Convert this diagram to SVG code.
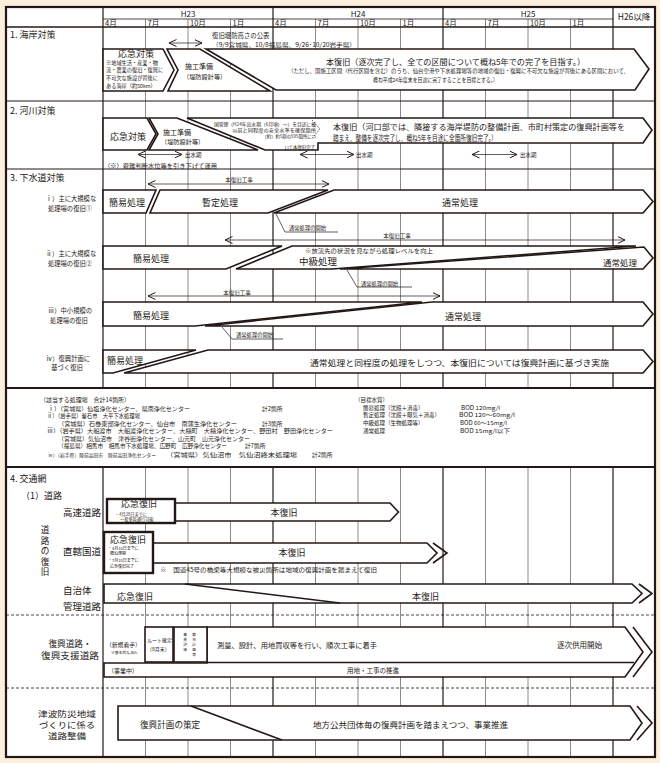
<svg xmlns="http://www.w3.org/2000/svg" width="660" height="763" viewBox="0 0 660 763">
<style>
.j{font-family:"Noto Sans CJK JP","Noto Sans",sans-serif;fill:#231815}
.l{font-family:"Liberation Sans","Noto Sans CJK JP",sans-serif;fill:#231815}
.s{fill:#fff;stroke:#231815;stroke-width:1.6;stroke-linejoin:miter}
.b{fill:#fff;stroke:#231815;stroke-width:2.4}
.ln{fill:none;stroke:#231815;stroke-width:1.6}
.th{fill:none;stroke:#231815;stroke-width:0.7}
.q{stroke:#6d6d6d;stroke-width:0.8}
.y{stroke:#231815;stroke-width:1.2}
.arr{fill:none;stroke:#231815;stroke-width:0.7;marker-start:url(#ah);marker-end:url(#ah)}
.d{stroke:#231815;stroke-width:0.8;stroke-dasharray:3 2}
</style>
<defs>
<marker id="ah" viewBox="0 0 8 8" refX="7.5" refY="4" markerWidth="8" markerHeight="8" markerUnits="userSpaceOnUse" orient="auto-start-reverse"><path d="M0,0.5 L7.5,4 L0,7.5" fill="none" stroke="#231815" stroke-width="1"/></marker>
</defs>
<rect x="0" y="0" width="660" height="763" fill="#fcefdc"/>
<rect x="6" y="7" width="649" height="750" fill="#fff"/>

<g id="grid">
<g class="q">
<line x1="145.5" y1="19" x2="145.5" y2="388"/><line x1="188" y1="19" x2="188" y2="388"/><line x1="230.5" y1="19" x2="230.5" y2="388"/>
<line x1="315.5" y1="19" x2="315.5" y2="388"/><line x1="358" y1="19" x2="358" y2="388"/><line x1="400.5" y1="19" x2="400.5" y2="388"/>
<line x1="485.5" y1="19" x2="485.5" y2="388"/><line x1="528" y1="19" x2="528" y2="388"/><line x1="570.5" y1="19" x2="570.5" y2="388"/>
<line x1="145.5" y1="467" x2="145.5" y2="757"/><line x1="188" y1="467" x2="188" y2="757"/><line x1="230.5" y1="467" x2="230.5" y2="757"/>
<line x1="315.5" y1="467" x2="315.5" y2="757"/><line x1="358" y1="467" x2="358" y2="757"/><line x1="400.5" y1="467" x2="400.5" y2="757"/>
<line x1="485.5" y1="467" x2="485.5" y2="757"/><line x1="528" y1="467" x2="528" y2="757"/><line x1="570.5" y1="467" x2="570.5" y2="757"/>
</g>
<g class="y">
<line x1="273" y1="7" x2="273" y2="388"/><line x1="443" y1="7" x2="443" y2="388"/><line x1="613" y1="7" x2="613" y2="388"/>
<line x1="273" y1="467" x2="273" y2="757"/><line x1="443" y1="467" x2="443" y2="757"/><line x1="613" y1="467" x2="613" y2="757"/>
<line x1="103" y1="7" x2="103" y2="388"/><line x1="103" y1="467" x2="103" y2="757"/>
<line x1="103" y1="19" x2="613" y2="19" stroke-width="0.8"/>
<line x1="6" y1="27" x2="655" y2="27" stroke-width="1.6"/>
<line x1="6" y1="101" x2="655" y2="101" stroke-width="1"/>
<line x1="6" y1="169" x2="655" y2="169" stroke-width="1"/>
<line x1="6" y1="388" x2="655" y2="388" stroke-width="2"/>
<line x1="6" y1="467" x2="655" y2="467" stroke-width="2"/>
</g>
<line class="d" x1="6" y1="615" x2="655" y2="615"/>
<line class="d" x1="6" y1="688" x2="655" y2="688"/>
</g>

<g id="header" class="j">
<text x="188" y="16.5" font-size="8" text-anchor="middle">H23</text>
<text x="358" y="16.5" font-size="8" text-anchor="middle">H24</text>
<text x="528" y="16.5" font-size="8" text-anchor="middle">H25</text>
<text x="634" y="19.5" font-size="8.5" text-anchor="middle">H26以降</text>
<g font-size="7.5">
<text x="105" y="26">4月</text><text x="147.5" y="26">7月</text><text x="190" y="26">10月</text><text x="232.5" y="26">1月</text>
<text x="275" y="26">4月</text><text x="317.5" y="26">7月</text><text x="360" y="26">10月</text><text x="402.5" y="26">1月</text>
<text x="445" y="26">4月</text><text x="487.5" y="26">7月</text><text x="530" y="26">10月</text><text x="572.5" y="26">1月</text>
</g>
</g>

<g id="labels" class="j">
<text x="10" y="38" font-size="9">1. 海岸対策</text>
<text x="10" y="114" font-size="9">2. 河川対策</text>
<text x="10" y="181" font-size="9">3. 下水道対策</text>
<g font-size="6.3" text-anchor="middle">
<text x="71" y="200.5">ⅰ）主に大規模な</text><text x="70" y="210.5">処理場の復旧①</text>
<text x="71" y="256">ⅱ）主に大規模な</text><text x="70" y="266">処理場の復旧②</text>
<text x="70" y="313">ⅲ）中小規模の</text><text x="69" y="323">処理場の復旧</text>
<text x="68" y="361">ⅳ）復興計画に</text><text x="67" y="370">基づく復旧</text>
</g>
<text x="10" y="482" font-size="9">4. 交通網</text>
<text x="21" y="499" font-size="9">（1）道路</text>
<g font-size="8.6" text-anchor="middle">
<text x="45" y="533">道</text><text x="45" y="543.5">路</text><text x="45" y="554">の</text><text x="45" y="564.5">復</text><text x="45" y="575">旧</text>
</g>
<g font-size="9.5">
<text x="63" y="516">高速道路</text>
<text x="63" y="555">直轄国道</text>
<text x="63" y="593.5">自治体</text>
<text x="63" y="610">管理道路</text>
</g>
<g font-size="8.6" text-anchor="middle">
<text x="70" y="647">復興道路・</text>
<text x="70" y="658.5" textLength="58" lengthAdjust="spacingAndGlyphs">復興支援道路</text>
</g>
<g font-size="8.2" text-anchor="middle">
<text x="67" y="716.5" textLength="58" lengthAdjust="spacingAndGlyphs">津波防災地域</text>
<text x="67" y="727.5" textLength="56" lengthAdjust="spacingAndGlyphs">づくりに係る</text>
<text x="67" y="738.5" textLength="38" lengthAdjust="spacingAndGlyphs">道路整備</text>
</g>
</g>

<g id="connectors">
<line class="arr" x1="169" y1="43" x2="202" y2="43"/>
<line class="arr" x1="138" y1="154.5" x2="182" y2="154.5"/>
<line class="arr" x1="300" y1="154.5" x2="354" y2="154.5"/>
<line class="arr" x1="472" y1="154.5" x2="517" y2="154.5"/>
<line class="arr" x1="148" y1="184" x2="329" y2="184"/>
<line class="arr" x1="225" y1="240" x2="625" y2="240"/>
<line class="arr" x1="148" y1="296" x2="440" y2="296"/>
<polyline class="th" points="276,214 285,232 338,232"/>
<polyline class="th" points="347,270 357,287 412,287"/>
<polyline class="th" points="222,327 232,339 283,339"/>
</g>

<g id="coast">
<polygon class="s" points="103,49 163,49 174,70 163,91 103,91"/>
<polygon class="s" points="167,49 200,49 270,91 168,91 178,70"/>
<polygon class="s" points="206,49 634,49 649,69 635,90 276,90"/>
<g class="j">
<text x="212" y="37.5" font-size="6.4">復旧堤防高さの公表</text>
<text x="212" y="46.5" font-size="5.6" textLength="144" lengthAdjust="spacingAndGlyphs">（9/9宮城県、10/8福島県、9/26･10/20岩手県）</text>
<text x="136" y="57" font-size="9" text-anchor="middle">応急対策</text>
<g font-size="5.2">
<text x="106" y="64.7">※地域生活・産業・物</text>
<text x="106" y="72.3">流・農業の復旧・復興に</text>
<text x="106" y="79.7">不可欠な施設が背後に</text>
<text x="106" y="87.7">ある海岸（約50km）</text>
</g>
<text x="185" y="69" font-size="7">施工準備</text>
<text x="183" y="79" font-size="6.2">（堤防設計等）</text>
<text x="326" y="64.5" font-size="8.2" textLength="259" lengthAdjust="spacingAndGlyphs">本復旧（逐次完了し、全ての区間について概ね5年での完了を目指す。）</text>
<text x="288" y="73" font-size="5.3" textLength="341" lengthAdjust="spacingAndGlyphs">（ただし、国施工区間（代行区間を含む）のうち、仙台空港や下水処理場等の地域の復旧・復興に不可欠な施設が背後にある区間において、</text>
<text x="373" y="82" font-size="5.3" textLength="125" lengthAdjust="spacingAndGlyphs">概ね平成24年度末を目途に完了することを目標とする。）</text>
</g>
</g>

<g id="river">
<polygon class="s" points="103,118 147,118 156,134 147,150 103,150"/>
<polygon class="s" points="149,118 177,118 258,150 149,150 158,134"/>
<polygon class="s" points="187,118 643,118 652,130 643,143 318,143 318,150 265,150"/>
<polyline class="th" points="312,120 320,129 312,138" stroke-dasharray="1.5 1"/>
<g class="j">
<text x="110" y="140" font-size="9">応急対策</text>
<text x="163" y="135" font-size="7">施工準備</text>
<text x="161" y="143.5" font-size="6.2">（堤防設計等）</text>
<g font-size="4.4" text-anchor="end">
<text x="316" y="126" textLength="102" lengthAdjust="spacingAndGlyphs">国管理（H24年出水期（6月頃）～）を目途に被</text>
<text x="316" y="131.8" textLength="84" lengthAdjust="spacingAndGlyphs">災前と同程度の安全水準を確保箇所</text>
<text x="316" y="137.6">（約）約5割の595箇所につ</text>
<text x="315" y="148.5">いて本復旧完了</text>
</g>
<text x="333" y="130" font-size="7.6" textLength="292" lengthAdjust="spacingAndGlyphs">本復旧（河口部では、隣接する海岸堤防の整備計画、市町村策定の復興計画等を</text>
<text x="333" y="140.8" font-size="7.6" textLength="164" lengthAdjust="spacingAndGlyphs">踏まえ、整備を逐次完了し、概ね5年を目途に全箇所復旧完了。）</text>
<text x="185" y="157" font-size="5.5">出水期</text>
<text x="356" y="157" font-size="5.5">出水期</text>
<text x="520" y="157" font-size="5.5">出水期</text>
<text x="104" y="167.5" font-size="6" textLength="113" lengthAdjust="spacingAndGlyphs">（※）避難判断水位等を引き下げて運用</text>
</g>
</g>

<g id="sewer">
<polygon class="s" points="103,190 156,190 146,213 103,213"/>
<polygon class="s" points="160,190 328,190 268,213 150,213"/>
<polygon class="s" points="334,190 643,190 653,201.5 643,213 274,213"/>
<polygon class="s" points="103,246 282,246 226,269 103,269"/>
<polygon class="s" points="292,246 636,246 332,269 236,269"/>
<polygon class="s" points="340,269 644,247 653,258 643,269"/>
<polygon class="s" points="103,302 422,302 195,326 103,326"/>
<polygon class="s" points="432,302 643,302 653,314 643,326 205,326"/>
<polygon class="s" points="103,350 196,350 113,373 103,373"/>
<polygon class="s" points="208,350 643,350 653,361.5 643,373 124,373"/>
<g class="j">
<text x="239" y="182" font-size="5.5" text-anchor="middle">本復旧工事</text>
<text x="109" y="206" font-size="9">簡易処理</text>
<text x="220" y="206" font-size="9" text-anchor="middle">暫定処理</text>
<text x="460" y="206" font-size="9" text-anchor="middle">通常処理</text>
<text x="289" y="230" font-size="5.3">通常処理の開始</text>
<text x="397" y="238" font-size="5.5" text-anchor="middle">本復旧工事</text>
<text x="133" y="261.5" font-size="9">簡易処理</text>
<text x="305" y="253" font-size="5.7" textLength="128" lengthAdjust="spacingAndGlyphs">※放流先の状況を見ながら処理レベルを向上</text>
<text x="299" y="265" font-size="9.5">中級処理</text>
<text x="603" y="266" font-size="8.5">通常処理</text>
<text x="361" y="285.5" font-size="5.3">通常処理の開始</text>
<text x="237" y="294.5" font-size="5.5" text-anchor="middle">本復旧工事</text>
<text x="133" y="318.5" font-size="9">簡易処理</text>
<text x="463" y="319.5" font-size="9" text-anchor="middle">通常処理</text>
<text x="236" y="337" font-size="5.3">通常処理の開始</text>
<text x="107" y="363.5" font-size="9">簡易処理</text>
<text x="310" y="366" font-size="8.5" textLength="299" lengthAdjust="spacingAndGlyphs">通常処理と同程度の処理をしつつ、本復旧については復興計画に基づき実施</text>
</g>
</g>

<g id="notes" class="j" font-size="5.8">
<text x="40" y="402" textLength="90" lengthAdjust="spacingAndGlyphs">（該当する処理場　合計14箇所）</text>
<text x="48" y="410.5" textLength="142" lengthAdjust="spacingAndGlyphs">ⅰ）（宮城県）仙塩浄化センター、県南浄化センター</text>
<text x="262" y="410.5">計2箇所</text>
<text x="47" y="418" textLength="93" lengthAdjust="spacingAndGlyphs">ⅱ）（岩手県）釜石市　大平下水処理場</text>
<text x="58" y="425.5" textLength="179" lengthAdjust="spacingAndGlyphs">（宮城県）石巻東部浄化センター、仙台市　南蒲生浄化センター</text>
<text x="262" y="425.5">計3箇所</text>
<text x="47" y="433" textLength="286" lengthAdjust="spacingAndGlyphs">ⅲ）（岩手県）大船渡市　大船渡浄化センター、大槌町　大槌浄化センター、野田村　野田浄化センター</text>
<text x="58" y="440.5" textLength="192" lengthAdjust="spacingAndGlyphs">（宮城県）気仙沼市　津谷街浄化センター、山元町　山元浄化センター</text>
<text x="58" y="448.3" textLength="169" lengthAdjust="spacingAndGlyphs">（福島県）相馬市　相馬市下水処理場、広野町　広野浄化センター</text>
<text x="245" y="448.3">計7箇所</text>
<text x="48" y="457.3" font-size="4.8">ⅳ）（岩手県）陸前高田市　陸前高田浄化センター</text>
<text x="166" y="457.3" textLength="131" lengthAdjust="spacingAndGlyphs">（宮城県）気仙沼市　気仙沼終末処理場</text>
<text x="312" y="457.3">計2箇所</text>
<g font-size="5.5">
<text x="355" y="402">（目標水質）</text>
<text x="363" y="409.8">簡易処理（沈殿＋消毒）</text>
<text x="363" y="417.4">暫定処理（沈殿＋曝気＋消毒）</text>
<text x="363" y="425">中級処理（生物処理等）</text>
<text x="363" y="432.6">通常処理</text>
<text x="461" y="409.8" textLength="39" lengthAdjust="spacingAndGlyphs">BOD 120mg/l</text>
<text x="459" y="417.4" textLength="56" lengthAdjust="spacingAndGlyphs">BOD 120～60mg/l</text>
<text x="460" y="425" textLength="47" lengthAdjust="spacingAndGlyphs">BOD 60～15mg/l</text>
<text x="460" y="432.6" textLength="50" lengthAdjust="spacingAndGlyphs">BOD 15mg/l以下</text>
</g>
</g>

<g id="expressway">
<polygon class="s" points="175,503 390,503 398.5,512 390,521 175,521"/>
<rect class="b" x="107" y="499" width="68" height="24"/>
<g class="j">
<text x="139" y="507" font-size="9" text-anchor="middle">応急復旧</text>
<text x="115" y="515.5" font-size="4.2">・4月28日までに</text>
<text x="120" y="521.3" font-size="4.2">一般車両通行可能</text>
<text x="284" y="516" font-size="9" text-anchor="middle">本復旧</text>
</g>
</g>

<g id="national">
<polygon class="s" points="153,543 427,543 437,553 427,563 153,563"/>
<polyline class="ln" points="433,543 447,553 433,563"/>
<rect class="b" x="104" y="532" width="49" height="41"/>
<g class="j">
<text x="110" y="542.5" font-size="9">応急復旧</text>
<g font-size="4">
<text x="108" y="549.5">・4月10日までに</text>
<text x="110" y="555">概ね啓開</text>
<text x="108" y="561.5">・7月10日までに</text>
<text x="110" y="567.5">応急復旧完了</text>
</g>
<text x="292" y="556" font-size="9" text-anchor="middle">本復旧</text>
<text x="160" y="571.5" font-size="5.8" textLength="217" lengthAdjust="spacingAndGlyphs">※　国道45号の橋梁等大規模な被災箇所は地域の復興計画を踏まえて復旧</text>
</g>
</g>

<g id="local">
<polygon class="s" points="104,584 632,584 642,593.5 632,603 104,603"/>
<polyline class="ln" points="639,584 652,593.5 639,603"/>
<line class="ln" x1="185" y1="584" x2="340" y2="603"/>
<g class="j">
<text x="117" y="599.5" font-size="9">応急復旧</text>
<text x="412" y="599.5" font-size="9">本復旧</text>
</g>
</g>

<g id="reconstruction-road">
<polygon class="s" points="207,627 625,627 643,652 625,677 104,677 104,663 207,663"/>
<line class="ln" x1="207" y1="662.5" x2="634" y2="662.5"/>
<polyline class="ln" points="633,627 652,652 633,677"/>
<rect class="s" x="145" y="627" width="28" height="35"/>
<rect class="s" x="174" y="627" width="33" height="35"/>
<g class="j">
<text x="106" y="646.5" font-size="5.8">（新規着手）</text>
<text x="111" y="654" font-size="3.8">※基本的な流れ</text>
<text x="147" y="642" font-size="5">ルート確定</text>
<text x="147" y="651" font-size="5">（8月末）</text>
<g font-size="3.7" text-anchor="middle">
<text x="185" y="636">事</text><text x="185" y="641">業</text><text x="185" y="646">評</text><text x="185" y="651">価</text>
<text x="194" y="636">都</text><text x="194" y="641">市</text><text x="194" y="646">計</text><text x="194" y="651">画</text><text x="194" y="656">等</text>
</g>
<text x="217" y="648" font-size="7" textLength="160" lengthAdjust="spacingAndGlyphs">測量、設計、用地買収等を行い、順次工事に着手</text>
<text x="557" y="648" font-size="7.5">逐次供用開始</text>
<text x="108" y="673" font-size="6">（事業中）</text>
<text x="347" y="673" font-size="6.5">用地・工事の推進</text>
</g>
</g>

<g id="tsunami-road">
<polygon class="s" points="118,706 630,706 642,723 630,740 118,740"/>
<polyline class="ln" points="637,706 652,723 637,740"/>
<line class="ln" x1="191" y1="706" x2="282" y2="740"/>
<g class="j">
<text x="140" y="728" font-size="8.6">復興計画の策定</text>
<text x="313" y="728" font-size="8.5" textLength="195" lengthAdjust="spacingAndGlyphs">地方公共団体毎の復興計画を踏まえつつ、事業推進</text>
</g>
</g>

<rect x="6" y="7" width="649" height="750" fill="none" stroke="#231815" stroke-width="2.2"/>
</svg>
